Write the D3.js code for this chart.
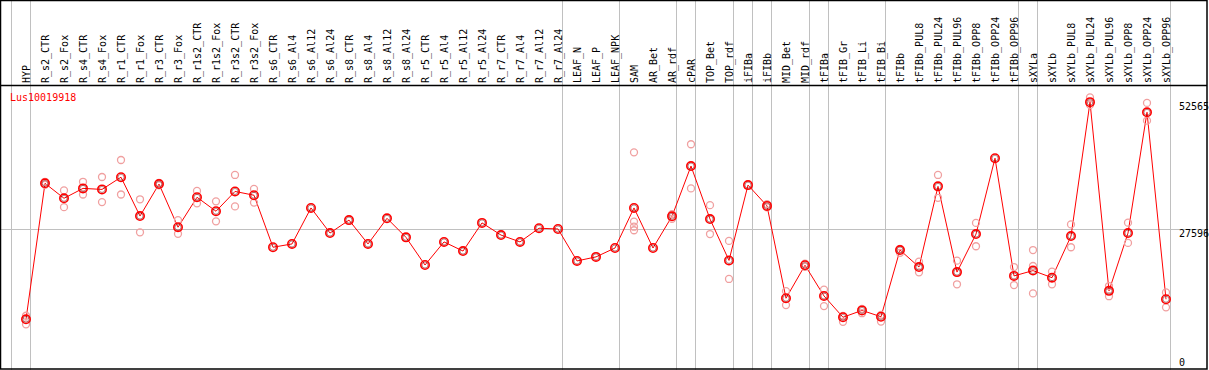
<!DOCTYPE html>
<html>
<head>
<meta charset="utf-8">
<script src="https://cdn.jsdelivr.net/npm/d3@7"></script>
<style>
  html, body { margin: 0; padding: 0; background: #fff; }
  svg { display: block; }
  text { font-family: "DejaVu Sans Mono", "Liberation Mono", monospace; font-size: 10px; }
</style>
</head>
<body>
<svg id="chart" width="1209" height="370"></svg>
<script>
// ---------------- DATA ----------------
const geneName = "Lus10019918";

const categories = [
  "HYP","R_s2_CTR","R_s2_Fox","R_s4_CTR","R_s4_Fox","R_r1_CTR","R_r1_Fox","R_r3_CTR","R_r3_Fox",
  "R_r1s2_CTR","R_r1s2_Fox","R_r3s2_CTR","R_r3s2_Fox","R_s6_CTR","R_s6_Al4","R_s6_Al12","R_s6_Al24",
  "R_s8_CTR","R_s8_Al4","R_s8_Al12","R_s8_Al24","R_r5_CTR","R_r5_Al4","R_r5_Al12","R_r5_Al24",
  "R_r7_CTR","R_r7_Al4","R_r7_Al12","R_r7_Al24","LEAF_N","LEAF_P","LEAF_NPK","SAM","AR_Bet","AR_rdf",
  "cPAR","TOP_Bet","TOP_rdf","iFIBa","iFIBb","MID_Bet","MID_rdf","tFIBa","tFIB_Gr","tFIB_Li","tFIB_Bi",
  "tFIBb","tFIBb_PUL8","tFIBb_PUL24","tFIBb_PUL96","tFIBb_OPP8","tFIBb_OPP24","tFIBb_OPP96",
  "sXYLa","sXYLb","sXYLb_PUL8","sXYLb_PUL24","sXYLb_PUL96","sXYLb_OPP8","sXYLb_OPP24","sXYLb_OPP96"
];

const meanValues = [
  9800, 36600, 33650, 35600, 35400, 37800, 30150, 36450, 27950,
  33850, 31100, 35000, 34250, 24000, 24650, 31750, 26800,
  29350, 24650, 29700, 25950, 20500, 25050, 23250, 28800,
  26400, 25050, 27750, 27600, 21300, 22100, 23850, 31750, 23850, 30100,
  40000, 29550, 21400, 36250, 32150, 13950, 20450, 14400, 10200, 11550, 10300,
  23450, 20100, 36000, 19100, 26600, 41550, 18350,
  19400, 18000, 26200, 52600, 15400, 26800, 50600, 13750
];

const replicateValues = [
  [10500, 8800], [36900, 36300], [35200, 31900], [36900, 34400], [37850, 32900],
  [41200, 34400], [33450, 26950], [36700, 36200], [29350, 26650],
  [35100, 32650], [33050, 29100], [38250, 32050], [35500, 32800],
  [], [], [], [], [], [], [], [], [], [], [], [], [], [], [], [],
  [], [], [],
  [42700, 29050, 28050, 27350], [], [30500, 29600],
  [44300, 35600], [32300, 26600], [25250, 17750], [], [32500, 31850],
  [15350, 12600], [20750, 20150], [15650, 12400], [10450, 9300], [11850, 11000], [10650, 9350],
  [23650, 22900], [21150, 19050], [38250, 33750], [21350, 16700], [28800, 24200], [], [20100, 16550],
  [23450, 20300, 14900], [19200, 16700], [28500, 24000], [53550, 52050], [16350, 14350],
  [28850, 24850], [52450, 48950], [15100, 12150]
];

// indices of the last category of each group (-1 = left edge)
const groupEnds = [-1, 0, 28, 31, 34, 35, 37, 38, 39, 41, 42, 45, 52, 53, 60];

// right-hand value labels
const tickValues = [52565, 27596, 0];
const midlineValue = 27596;

// ---------------- LAYOUT ----------------
const W = 1209, H = 370;
const headerBottom = 85, plotBottom = 369, rightEdge = 1207;

const svg = d3.select("#chart");

const x = d3.scaleLinear().domain([0, categories.length - 1]).range([26, 1166]);
const y = d3.scaleLinear().domain([0, midlineValue]).range([plotBottom, 229]);

// separators (gray vertical lines, full height)
svg.append("g").selectAll("line").data(groupEnds).join("line")
  .attr("x1", d => Math.round(x(d) + 4) + 0.5)
  .attr("x2", d => Math.round(x(d) + 4) + 0.5)
  .attr("y1", 0).attr("y2", H)
  .attr("stroke", "#c0c0c0").attr("stroke-width", 1);

// horizontal mid line
svg.append("line")
  .attr("x1", 0).attr("x2", rightEdge)
  .attr("y1", Math.round(y(midlineValue)) + 0.5).attr("y2", Math.round(y(midlineValue)) + 0.5)
  .attr("stroke", "#c0c0c0").attr("stroke-width", 1);

// header labels (rotated)
svg.append("g").selectAll("text").data(categories).join("text")
  .attr("transform", (d, i) => `translate(${x(i) + 4},83) rotate(-90)`)
  .attr("text-anchor", "start")
  .attr("fill", "#000")
  .text(d => d);

// frame lines
svg.append("rect")
  .attr("x", 0.5).attr("y", 0.5)
  .attr("width", rightEdge - 0.5).attr("height", plotBottom - 0.5)
  .attr("fill", "none").attr("stroke", "#000").attr("stroke-width", 1.5);
svg.append("line")
  .attr("x1", 0).attr("x2", rightEdge)
  .attr("y1", headerBottom + 0.5).attr("y2", headerBottom + 0.5)
  .attr("stroke", "#000").attr("stroke-width", 1.5);

// right value labels
svg.append("g").selectAll("text").data(tickValues).join("text")
  .attr("x", 1179)
  .attr("y", d => d === 0 ? y(d) - 3 : y(d) + 8)
  .attr("fill", "#000")
  .text(d => d);

// gene name
svg.append("text")
  .attr("x", 10).attr("y", 101)
  .attr("fill", "#ff0000")
  .text(geneName);

// line through means
svg.append("path")
  .datum(meanValues)
  .attr("d", d3.line().x((d, i) => x(i)).y(d => y(d)))
  .attr("fill", "none").attr("stroke", "#ff0000").attr("stroke-width", 1);

// replicate circles
const reps = replicateValues.flatMap((arr, i) => arr.map(v => ({ i, v })));
svg.append("g").selectAll("circle").data(reps).join("circle")
  .attr("cx", d => x(d.i)).attr("cy", d => y(d.v)).attr("r", 3.5)
  .attr("fill", "none").attr("stroke", "#f0a0a0").attr("stroke-width", 1.3);

// mean markers
const meanG = svg.append("g");
meanG.selectAll("circle.o").data(meanValues).join("circle")
  .attr("class", "o")
  .attr("cx", (d, i) => x(i)).attr("cy", d => y(d)).attr("r", 4.2)
  .attr("fill", "none").attr("stroke", "#ff0000").attr("stroke-width", 1.6);
meanG.selectAll("circle.in").data(meanValues).join("circle")
  .attr("class", "in")
  .attr("cx", (d, i) => x(i)).attr("cy", d => y(d)).attr("r", 3)
  .attr("fill", "none").attr("stroke", "#600000").attr("stroke-width", 0.45);
</script>
</body>
</html>
